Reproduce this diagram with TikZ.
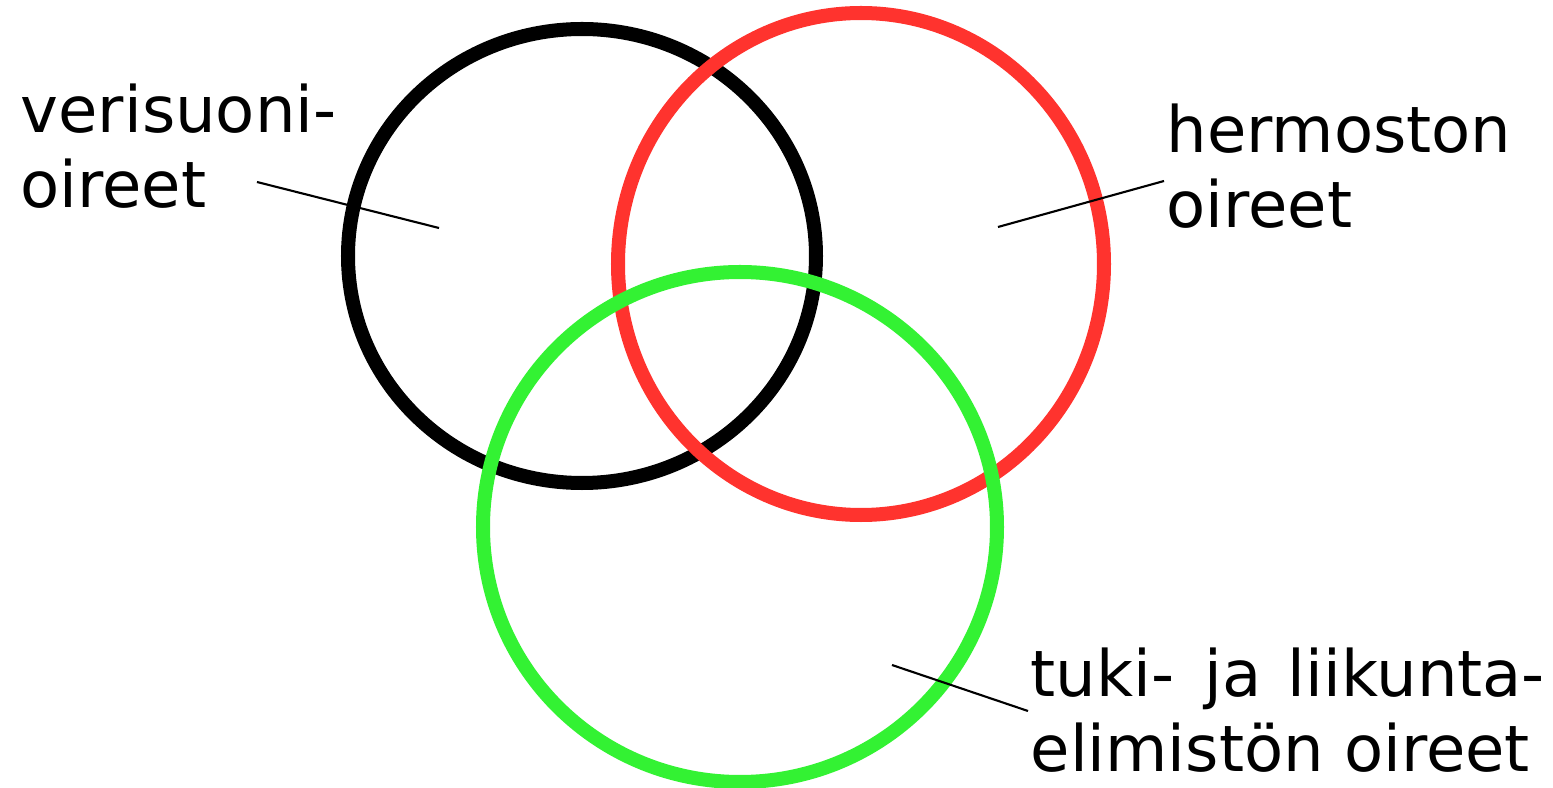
\documentclass[tikz,border=0pt]{standalone}
\usepackage{fontspec}
\setmainfont{DejaVu Sans}
\definecolor{ringred}{RGB}{255,51,46}
\definecolor{ringgreen}{RGB}{51,242,51}
\begin{document}
\begin{tikzpicture}[
    x=0.01cm, y=-0.01cm,
    every node/.style={font=\fontsize{18.2}{21.4}\selectfont, align=left, inner sep=0pt},
    ring/.style={line width=0.14cm},
    lead/.style={line width=0.6pt},
]
    \useasboundingbox (0,0) rectangle (1553,788);
    % the three symptom groups
    \draw[ring, black] (582,256) ellipse [x radius=234, y radius=227];
    \draw[ring, ringred] (861,264) ellipse [x radius=243, y radius=251];
    \draw[ring, ringgreen] (740,527) ellipse [x radius=257, y radius=255];
    % labels (base = last line)
    \node[anchor=base west] (veri) at (20,208) {verisuoni-\\oireet};
    \node[anchor=base west] (herm) at (1166,228) {hermoston\\oireet};
    \node[anchor=base west] (tuki) at (1030,772) {tuki-\hspace{0.15em} ja\hspace{0.1em} liikunta-\\elimist\"on oireet};
    % leader lines
    \coordinate (veri-a) at (257,182);
    \coordinate (veri-b) at (439,228);
    \coordinate (herm-a) at (1164,181);
    \coordinate (herm-b) at (998,227);
    \coordinate (tuki-a) at (1028,711);
    \coordinate (tuki-b) at (892,665);
    \draw[lead] (veri-a) -- (veri-b);
    \draw[lead] (herm-a) -- (herm-b);
    \draw[lead] (tuki-a) -- (tuki-b);
\end{tikzpicture}
\end{document}
